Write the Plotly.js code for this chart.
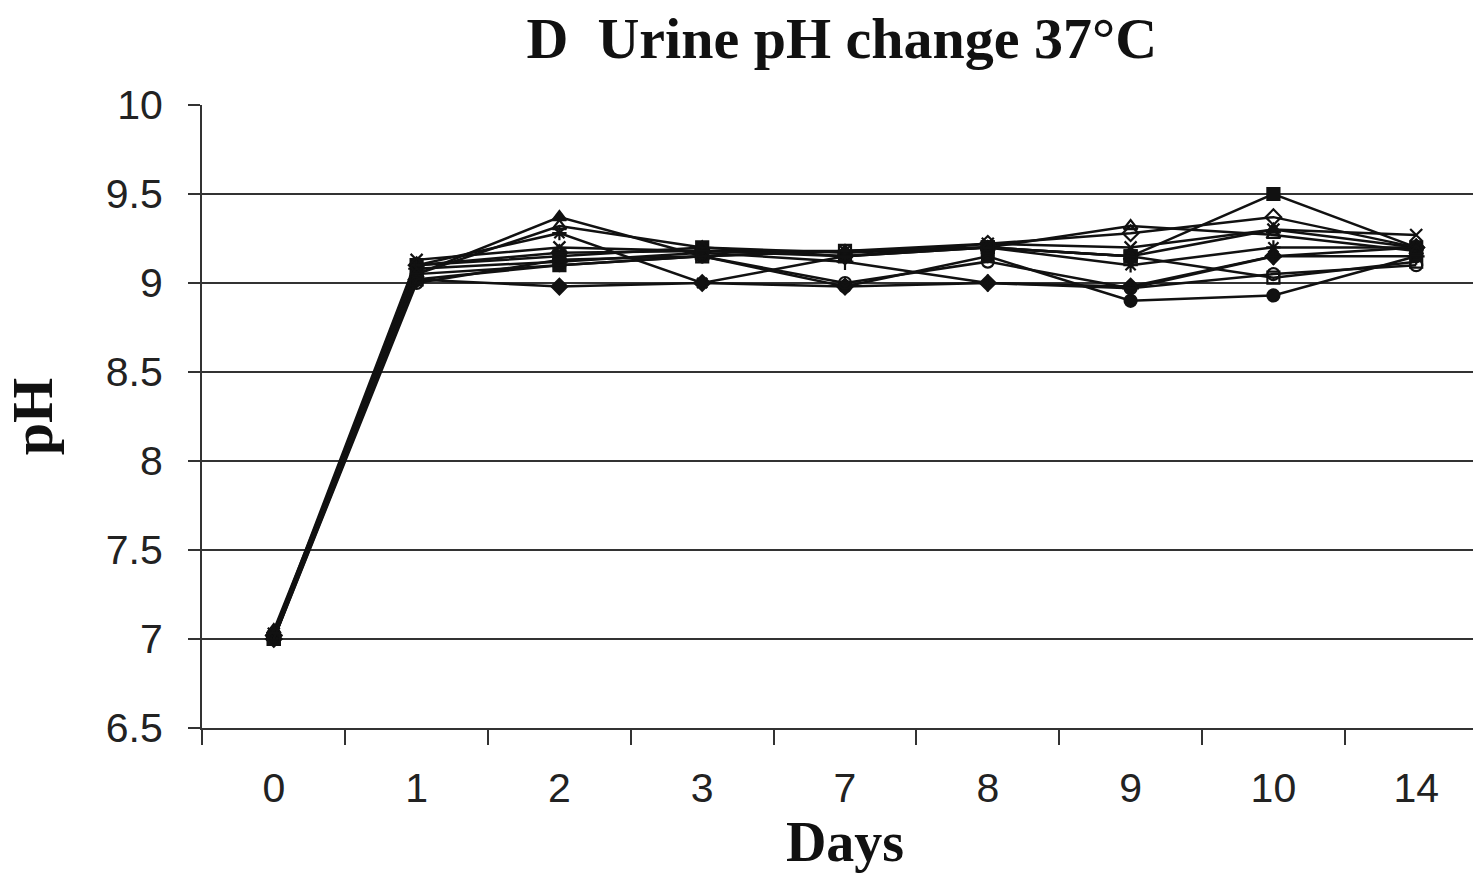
<!DOCTYPE html>
<html>
<head>
<meta charset="utf-8">
<script src="https://cdn.plot.ly/plotly-3.0.1.min.js"></script>
<style>
html, body { margin: 0; padding: 0; overflow: hidden; background: #fff; }
#chart { width: 1490px; height: 873px; }
</style>
</head>
<body>
<div id="chart"></div>
<script>
// Categories (days)
const days = ["0", "1", "2", "3", "7", "8", "9", "10", "14"];

// Series values (urine pH)
const s1  = [7.02, 9.02, 8.98, 9.00, 8.98, 9.00, 8.98, 9.15, 9.20];
const s2  = [7.00, 9.10, 9.15, 9.20, 9.15, 9.20, 9.15, 9.50, 9.20];
const s3  = [7.05, 9.05, 9.37, 9.15, 9.18, 9.20, 9.15, 9.30, 9.20];
const s4  = [7.03, 9.13, 9.20, 9.18, 9.18, 9.22, 9.20, 9.30, 9.27];
const s5  = [7.02, 9.10, 9.28, 9.00, 9.15, 9.20, 9.10, 9.20, 9.20];
const s6  = [7.03, 9.05, 9.10, 9.15, 8.98, 9.15, 8.90, 8.93, 9.15];
const s7  = [7.02, 9.08, 9.12, 9.17, 9.12, 9.00, 8.97, 9.15, 9.15];
const s8  = [7.00, 9.10, 9.17, 9.18, 9.15, 9.22, 9.28, 9.37, 9.20];
const s9  = [7.02, 9.05, 9.32, 9.20, 9.17, 9.20, 9.32, 9.27, 9.18];
const s10 = [7.00, 9.00, 9.13, 9.15, 9.00, 9.12, 8.97, 9.05, 9.10];
const s11 = [7.00, 9.02, 9.10, 9.15, 9.18, 9.20, 9.15, 9.03, 9.12];

const seriesList = [s1, s2, s3, s4, s5, s6, s7, s8, s9, s10, s11];
const symbols = ["diamond", "square", "triangle-up", "x-thin-open", "asterisk-open",
                 "circle", "cross-thin-open", "diamond-open", "triangle-up-open",
                 "circle-open", "square-open"];

const traces = seriesList.map((vals, i) => ({
  type: "scatter",
  mode: "lines+markers",
  x: days,
  y: vals,
  line: { color: "#111", width: 2.5 },
  marker: { symbol: symbols[i], size: 12, color: "#111",
            line: { color: "#111", width: 2.2 } },
  showlegend: false
}));

const layout = {
  width: 1490,
  height: 873,
  margin: { l: 202, r: 2, t: 105, b: 145 },
  paper_bgcolor: "#fff",
  plot_bgcolor: "#fff",
  title: {
    text: "<b>D  Urine pH change 37°C</b>",
    font: { family: "Liberation Serif, Times New Roman, serif", size: 58, color: "#111" },
    x: 0.565, xanchor: "center",
    y: 0.957, yanchor: "middle"
  },
  xaxis: {
    type: "category",
    tickson: "boundaries",
    ticks: "outside",
    ticklen: 15,
    tickwidth: 2,
    tickcolor: "#333",
    showline: true,
    linecolor: "#333",
    linewidth: 2,
    showgrid: false,
    zeroline: false,
    tickfont: { family: "Liberation Sans, Arial, sans-serif", size: 41, color: "#222" },
    ticklabelstandoff: 23,
    title: {
      text: "<b>Days</b>",
      font: { family: "Liberation Serif, Times New Roman, serif", size: 56, color: "#111" },
      standoff: 6
    }
  },
  yaxis: {
    range: [6.5, 10],
    dtick: 0.5,
    tick0: 6.5,
    ticks: "outside",
    ticklen: 12,
    tickwidth: 2,
    tickcolor: "#333",
    showline: true,
    linecolor: "#333",
    linewidth: 2,
    showgrid: true,
    gridcolor: "#333",
    gridwidth: 2,
    zeroline: false,
    tickfont: { family: "Liberation Sans, Arial, sans-serif", size: 41, color: "#222" },
    ticklabelstandoff: 17,
    title: {
      text: "<b>pH</b>",
      font: { family: "Liberation Serif, Times New Roman, serif", size: 58, color: "#111" },
      standoff: 34
    }
  }
};

Plotly.newPlot("chart", traces, layout, { displayModeBar: false, staticPlot: true });
</script>
</body>
</html>
